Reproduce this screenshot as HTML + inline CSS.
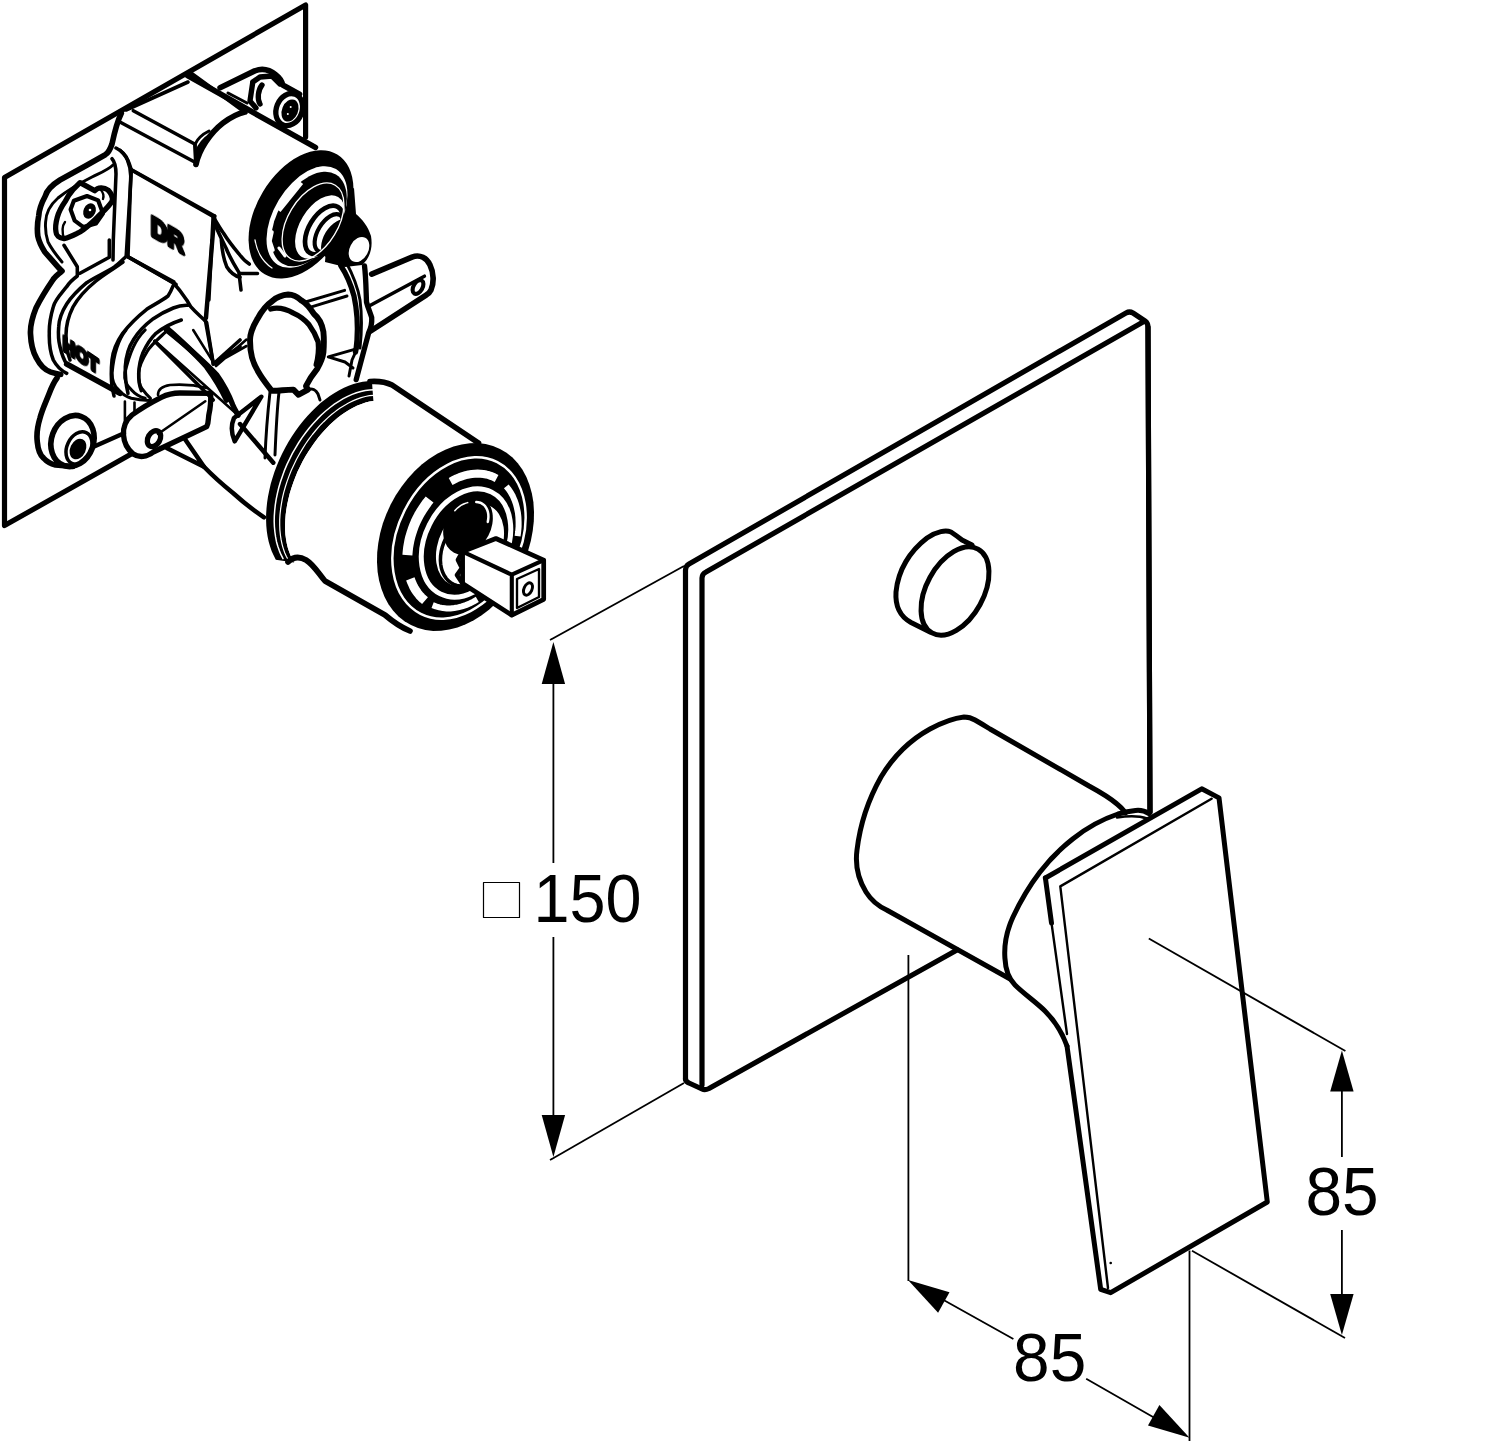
<!DOCTYPE html>
<html><head><meta charset="utf-8">
<style>
*{-webkit-font-smoothing:antialiased;}
html,body{margin:0;padding:0;background:#fff;}
body{width:1500px;height:1451px;overflow:hidden;}
svg{display:block;}
text{font-family:"Liberation Sans",sans-serif;}
</style></head>
<body>
<svg width="1500" height="1451" viewBox="0 0 1500 1451">
<g fill="none" stroke="#000" stroke-linecap="round" stroke-linejoin="round">
<!-- ===== Valve body ===== -->
<g id="valve">
<g stroke-width="5.66">
<!-- back plate -->
<path d="M131.7,453.7 L4.5,525.6 L4.5,177.5 L305.6,5 L305.6,137" stroke-width="5.2"/>
<!-- body left silhouette -->
<path d="M121.3,113.3 C118,120 115,130 112,144 C110,150 108,153 105.3,154.7 L86.7,165.3 L60,180 C52,185 47,190 45.3,196 C41,204 39,210 38.7,216 C37,224 37,229 37.8,236 C39,242 41,246 44.8,252 L59.2,268.4 L62,271 M61,272 C57,275 54,278 52.8,280 C46,290 40,300 36,308 C32,318 30,326 30.5,334 C31,346 33,352 36.4,358 C40,365 45,370 50.3,371.9 C54,373 57,374 60.7,374.5 M57,378 C54,382 52,386 49,394 C45,404 42,410 40,418 C37,428 36.5,436 37.3,442 C38,450 40,455 43.5,458 C47,462 51,464 55.5,465 L72.8,466.5"/>
<!-- lower left lug ring -->
<ellipse cx="72.5" cy="441" rx="21" ry="26" transform="rotate(20 72.5 441)"/>
</g>
<g stroke-width="3.54">
<ellipse cx="79" cy="448" rx="12" ry="17" transform="rotate(25 79 448)"/>
<ellipse cx="78" cy="449" rx="6" ry="9" transform="rotate(25 78 449)" fill="#000"/>
<!-- body top ridge -->
<path d="M121.3,122.7 L196,162.7 M133.3,110.7 L194.7,144 L196,162.7"/>
<path d="M192,73.6 L243.2,111"/>
<path d="M130.7,169.3 L214.7,216"/>
<path d="M116,148 C122,151 126,155 127.5,160 C130,166 131,172 130.7,178 L128,257 L176,284.4"/>
<path d="M112,158.7 C115,162 116,168 116,174 L113.3,240 L113,260"/>
<path d="M214.7,216 L206.4,318"/>
<!-- upper section -->
<g stroke-width="5.66">
<path d="M187.5,75.5 L315.4,147.4"/>
<path d="M220.1,87.7 L254.7,70.9 C262,68 270,70 276,75 C280,78 282,82 282.7,84.9 L299.5,94.2"/>
<path d="M196,164.4 C199,150 210,133 223,123 C231,117 238,113.5 245,112"/>
<path d="M126,110 L188,82" stroke-width="3.6"/>
</g>
<g stroke-width="3.07">
<path d="M195.3,143.8 C198,138 203,134 209,131 M196.5,152 C199,144 205,138 212,133.5"/>
<path d="M195.3,143.8 L195.3,164.4"/>
<path d="M228,93 L247,103"/>
</g>
<!-- lug screw -->
<g stroke-width="5.31">
<path d="M252.8,82 L260,77 L272,76 L280,84 M252.8,82 L250,101 L256,108"/>
<ellipse cx="289.2" cy="109.6" rx="12.8" ry="16.5" transform="rotate(22 289.2 109.6)"/>
<path d="M262,85 C258,90 257,99 260,104"/>
</g>
<ellipse cx="290" cy="110.5" rx="8" ry="11.5" transform="rotate(22 290 110.5)" fill="#000" stroke="none"/>
<circle cx="290.7" cy="107" r="1" fill="#fff" stroke="none"/>
<circle cx="287.8" cy="114" r="1" fill="#fff" stroke="none"/>
<!-- upper cylinder end rings -->
<ellipse cx="301" cy="214.4" rx="44.3" ry="70" transform="rotate(31.2 301 214.4)" fill="#000" stroke="none"/>
<path d="M330,200 L354,188 L356,214 C362,219 368,226 371,236 C373,248 370,258 362,265 L345,267 L325,262 Z" fill="#000" stroke="none"/>
<ellipse cx="307" cy="217" rx="33" ry="56" transform="rotate(31.2 307 217)" fill="#fff" stroke="none"/>
<ellipse cx="309" cy="219" rx="31" ry="52" transform="rotate(31.2 309 219)" fill="#000" stroke="none"/>
<ellipse cx="320" cy="227" rx="20" ry="35" transform="rotate(31.2 320 227)" fill="#fff" stroke="none"/>
<g stroke="#000" fill="none">
<ellipse cx="324" cy="230" rx="15" ry="27" transform="rotate(31.2 324 230)" stroke-width="4.72"/>
<ellipse cx="329" cy="233" rx="11" ry="21" transform="rotate(31.2 329 233)" stroke-width="4.13"/>
</g>
<ellipse cx="336" cy="238.5" rx="12" ry="21" transform="rotate(31.2 336 238.5)" fill="#000" stroke="none"/>
<g stroke="#fff">
<path d="M255,240 C257,252 263,262 272,268" stroke-width="1.3"/>
<path d="M278,210 L300.6,182" stroke-width="6.5" stroke-linecap="butt"/>
<path d="M316,169 C322,167 328,168 333,171" stroke-width="2.5"/>
<path d="M272,232 L270,241 L273,250" stroke-width="3.5"/>
<path d="M279,248 L285,256" stroke-width="3"/>
<ellipse cx="313" cy="222" rx="25" ry="43" transform="rotate(31.2 313 222)" stroke-width="1.3"/>
</g>
<ellipse cx="359" cy="249.5" rx="9.3" ry="13.3" transform="rotate(28 359 249.5)" fill="#fff" stroke="none"/>
<!-- lower-middle bracket -->
<g stroke-width="5.31">
<path d="M161.3,397.3 C150,403 140,409 132,415 C126,420 123,427 123.5,435 C124,443 127,449 133.3,454 C139,458 147,457 153.3,452 L206.7,426.7 C209,422 208,418 209,414 C210,410 211,405 210.7,393.3 L180,393 C172,393 166,395 161.3,397.3 Z"/>
<ellipse cx="154" cy="438.7" rx="6" ry="8.5" transform="rotate(30 154 438.7)"/>
</g>
<g stroke-width="2.60">
<path d="M158,434 L205.3,401.3"/>
<path d="M158,395 C158,389 163,386 170,385 C182,384 195,385 207,388"/>
<path d="M124.9,401.5 L124.9,426 M134.5,402.5 L134.5,413.2"/>
</g>
<g stroke-width="4.48">
<path d="M166.7,448 L204,466.7 L184.7,438.7"/>
<path d="M204,466.7 C212,475 222,484 233,493 C243,502 253,510 264,517.3"/>
<path d="M261.3,396.7 L234,418 C231,425 231,433 234.7,441.3 Z"/>
<path d="M240,424 L273.3,462.7"/>
<path d="M93.6,446.8 L124,433.3"/>
</g>
<g stroke-width="2.95">
<path d="M270,392 C268,410 266,430 265,458 M279,392 C277,410 276,430 275,455"/>
</g>
<!-- flange arcs -->
<g stroke-width="3.07">
<path d="M126,330 C118,340 114,352 112.1,372.7 C112,380 114,386 118.5,389.7 C123,395 127,397 131.3,398.3 C138,400 145,400.5 150.5,400.4"/>
<path d="M145.2,330 C135,340 130,352 124.9,372.7 C124,380 127,386 131.3,389.7 C136,395 140,397 145.2,398.3"/>
<path d="M165.5,332.1 C157,340 150,346 147.3,351.3 C142,360 139,366 138.8,372.7 C138.5,380 139,385 142,388.7 C145,393 148,396 150.5,398.3"/>
</g>
<g stroke-width="2.60">
<path d="M154.8,340.7 L235.9,413.2"/>
<path d="M193.2,330 L214.5,364.1 L246.5,346 M216,366 L246.5,339.6"/>
</g>
<g stroke-width="5.31">
<path d="M166.5,330 C185,345 205,362 216.7,374.8 C224,385 229,395 232.7,404.7 C235,410 237,413 238,415.3"/>

</g>
<!-- body block & housing lines -->
<g stroke-width="3.54">
<path d="M131.4,170 L213.1,216.5 M131.4,170 L126.2,255.8 L173.8,281.7 M213.1,216.5 L208.9,300"/>
<path d="M120,150.3 C125,155 128,160 129.3,163.8 L131.4,170"/>
<path d="M213.1,216.5 C218,225 221,230 223.4,233 C229,242 234,248 238.9,253.8 C242,258 246,262 249.3,264.1"/>
<path d="M214,222 C218,232 222,240 226,248 C230,258 235,266 238.9,272.4 L241,290 M238.9,273.4 L257.5,273.4"/>
<path d="M64,245.3 L77.3,266.7 L77.3,276 C72,280 69,283 66.7,286.7 C60,295 55,300 53.3,306.7 C50,318 49,325 49.3,333.3 C49,345 50,352 53.3,360 C57,367 62,371 66.7,373.3"/>
<path d="M109.3,240 L109.3,257.3 L80,273.3"/>
<path d="M125.3,257.3 C120,262 118,264 114.7,266.7 C105,273 95,277 86.7,282.7 C78,290 72,296 66.7,304 C61,313 59,320 58.7,326.7 C58,335 58.5,341 60,346.7 C62,355 64,360 66.7,364"/>
<path d="M123,262 C112,270 103,275 96,281 C85,290 78,298 73,307 C68,317 66,325 66,335 C66,345 67,352 70,360"/>
<path d="M126.7,256 L173.3,282.7 C180,290 184,296 186.7,300 L190.7,306.7 C197,314 203,318 206.7,322.7 L213.3,364"/>
<path d="M173.3,285.3 C171,291 170,293 168,296 C160,302 153,305 146.7,309.3 C137,317 129,325 122.7,333.3 C116,343 113,350 112,360 C111,370 111,378 112,386.7 L114,396"/>
<path d="M188,305.3 C182,305 178,306 173.3,308 C166,311 160,314 153.3,318.7 C145,325 138,332 133.3,340 C128,348 126,356 125.3,366.7 C125,376 126,385 128,393.3"/>
<path d="M181.3,320 C172,323 164,327 156,333.3 C150,339 146,346 142.7,353.3 C140,360 139,366 138.7,373.3 C138.5,380 139.5,386 141.3,390.7"/>
<path d="M154.7,341.3 L213.3,400"/>
<path d="M212,240 L205.3,320 L213.3,364 L240,346.7 M213.3,364 L240,340"/>
<path d="M221.3,240 C222,252 224,260 226.7,266.7 C230,272 235,276 240,277.3"/>
</g>
<g stroke-width="5.66">
<path d="M66.7,364 L120,393.3"/>
<path d="M166.7,328 C180,340 195,353 206.7,366.7 C215,378 222,390 226.7,400"/>
</g>
<g fill="#000" stroke="#000" stroke-width="4.72" stroke-linejoin="round" font-weight="bold" font-family="Liberation Sans, sans-serif" opacity="0.999">
<text font-size="28" stroke-width="4.48" transform="translate(151,235) skewY(30) scale(0.82,1)">DR</text>
<text font-size="21" stroke-width="4" transform="translate(63,350) skewY(34) scale(0.8,1)">HOT</text>
</g>
<!-- right pin bracket -->
<g stroke-width="5.66">
<path d="M371.7,274.1 L412,257.1 C420,254 427,258 430,265 C434,273 434,283 431,290 C430,292 428,294 426.5,294.8 L370.7,331"/>
</g>
<g stroke-width="3.54">
<path d="M368.6,306.2 L424.4,276.2"/>
<ellipse cx="418" cy="287" rx="4.5" ry="7.5" transform="rotate(30 418 287)" stroke-width="4.13"/>
</g>
<!-- curved pipe -->
<g stroke-width="5.31">
<path d="M340.7,265.5 C347,275 351,285 354,296 C357,310 358,325 357,340 C356.5,346 356,350 355.5,352"/>
<path d="M364.5,265.9 C366,278 366,290 366.5,302 C368,308 370,312 371.7,317.6 C372,322 371,328 368.6,333 L360.3,364.1 L356.2,379.6"/>
</g>
<g stroke-width="2.95">
<path d="M346,262 C353,275 358,288 360,300 C362,315 362,330 360,348"/>
<path d="M328.3,356.9 L357.2,348.6 L352,360 L349,376 M328.3,356.9 L345,362 L353,368"/>
<path d="M344.6,290.3 L305.5,302 M347,296 L310.7,307.2"/>
</g>
<!-- knob -->
<g stroke-width="5.90">
<path d="M288.2,294.5 C282,295 277,297 272.7,300.7 C265,306 261,312 257.2,319.3 C252,328 250,333 250,340 C250,346 250.5,352 252,357.6 C254,365 257,370 260.3,375.1 C264,381 268,386 271.7,390.7 C278,391 286,389.5 293.4,389.6 L298.6,394.8 L307.9,389.6 L306,386 C309,380 313,374 317.2,368.9 C321,362 323,356 323.4,352.4 C324,345 324,338 323.4,331.7 C322,324 319,318 314.1,314.1 C310,308 306,303 301.7,300.7 C297,296.5 293,294.5 288.2,294.5 Z" fill="#fff"/>
</g>
<g stroke-width="5.31">
<path d="M270.7,309 C278,307 286,309 293.4,313.1 C300,316 305,320 308.9,324.5 C313,330 316,336 318.2,342 C319,350 318,358 316.2,364.8"/>
</g>
<g stroke-width="2.95">
<path d="M308,389.6 C312,388 316,390 318,394 L320,400"/>

</g>
<!-- cartridge -->
<path d="M371.9,380.9 L367.4,381.2 L362.8,381.7 L358.2,382.7 L353.5,384.0 L348.7,385.7 L344.0,387.8 L339.2,390.2 L334.5,392.9 L329.8,396.0 L325.1,399.4 L320.5,403.1 L316.0,407.2 L311.7,411.4 L307.4,416.0 L303.3,420.8 L299.3,425.8 L295.5,431.0 L291.8,436.5 L288.4,442.0 L285.2,447.8 L282.1,453.7 L279.4,459.6 L276.8,465.7 L274.5,471.8 L272.5,478.0 L270.7,484.1 L269.3,490.3 L268.0,496.4 L267.1,502.5 L266.5,508.5 L266.1,514.4 L266.1,520.2 L266.3,525.8 L266.8,531.3 L267.6,536.6 L268.7,541.7 L270.1,546.6 L271.7,551.2 L273.7,555.6 L275.8,559.7 L294.3,562.5 L292.3,559.1 L290.6,555.6 L289.1,551.8 L287.8,547.8 L286.8,543.5 L286.0,539.1 L285.4,534.5 L285.1,529.7 L285.1,524.8 L285.3,519.7 L285.7,514.5 L286.4,509.3 L287.3,504.0 L288.5,498.6 L289.8,493.2 L291.5,487.8 L293.3,482.4 L295.4,477.0 L297.6,471.6 L300.1,466.4 L302.7,461.2 L305.6,456.1 L308.6,451.2 L311.8,446.4 L315.1,441.7 L318.5,437.2 L322.1,433.0 L325.8,428.9 L329.6,425.1 L333.4,421.5 L337.4,418.1 L341.3,415.0 L345.4,412.2 L349.4,409.7 L353.5,407.5 L357.5,405.5 L361.6,403.9 L365.6,402.6 L369.5,401.6 L373.4,401.0 Z" fill="#000" stroke="none"/>
<path d="M373.7,389.7 L369.5,390.0 L365.2,390.5 L360.9,391.5 L356.5,392.8 L352.1,394.4 L347.7,396.4 L343.2,398.7 L338.8,401.3 L334.4,404.2 L330.0,407.5 L325.7,411.0 L321.5,414.8 L317.4,418.9 L313.4,423.2 L309.5,427.7 L305.8,432.5 L302.2,437.4 L298.8,442.5 L295.6,447.8 L292.5,453.2 L289.7,458.8 L287.0,464.4 L284.6,470.1 L282.5,475.9 L280.5,481.7 L278.8,487.5 L277.4,493.4 L276.2,499.1 L275.3,504.9 L274.7,510.5 L274.3,516.1 L274.2,521.5 L274.4,526.8 L274.9,532.0 L275.6,536.9 L276.5,541.7 L277.8,546.3 L279.3,550.6 L281.0,554.7 L283.0,558.6" stroke="#fff" stroke-width="1.5"/>
<path d="M373.5,395.3 L369.4,395.7 L365.3,396.5 L361.2,397.6 L357.0,399.1 L352.8,400.9 L348.5,403.0 L344.3,405.4 L340.1,408.1 L335.9,411.1 L331.8,414.3 L327.7,417.9 L323.7,421.7 L319.8,425.7 L316.1,430.0 L312.4,434.5 L308.9,439.2 L305.5,444.0 L302.3,449.1 L299.3,454.2 L296.4,459.5 L293.8,464.9 L291.3,470.3 L289.1,475.9 L287.1,481.4 L285.3,487.0 L283.7,492.6 L282.4,498.2 L281.4,503.8 L280.6,509.2 L280.0,514.6 L279.7,519.9 L279.7,525.1 L279.9,530.1 L280.4,535.0 L281.1,539.7 L282.1,544.3 L283.3,548.6 L284.7,552.7 L286.4,556.5 L288.4,560.1" stroke="#fff" stroke-width="1.2"/>
<path d="M373.4,401.0 L369.5,401.6 L365.6,402.6 L361.6,403.9 L357.5,405.5 L353.5,407.5 L349.4,409.7 L345.4,412.2 L341.3,415.0 L337.4,418.1 L333.4,421.5 L329.6,425.1 L325.8,428.9 L322.1,433.0 L318.5,437.2 L315.1,441.7 L311.8,446.4 L308.6,451.2 L305.6,456.1 L302.7,461.2 L300.1,466.4 L297.6,471.6 L295.4,477.0 L293.3,482.4 L291.5,487.8 L289.8,493.2 L288.5,498.6 L287.3,504.0 L286.4,509.3 L285.7,514.5 L285.3,519.7 L285.1,524.8 L285.1,529.7 L285.4,534.5 L286.0,539.1 L286.8,543.5 L287.8,547.8 L289.1,551.8 L290.6,555.6 L292.3,559.1 L294.3,562.5 L410,631 L478.5,443 Z" fill="#fff" stroke="none"/>
<g stroke-width="5.66">
<path d="M370,381.5 C378,381 386,382 392,385 L478.5,443"/>
<path d="M288,562 C293,557 299,556 306,560 C314,565 318,573 325,581 L385,615 C392,621 398,626 410,631"/>
</g>
<path d="M520.2,569.7 L515.2,578.7 L509.5,587.3 L503.3,595.3 L496.5,602.7 L489.3,609.4 L481.7,615.2 L473.8,620.2 L465.7,624.3 L457.5,627.5 L449.3,629.6 L441.2,630.8 L433.2,630.9 L425.4,630.0 L418.0,628.0 L411.0,625.1 L404.5,621.2 L398.5,616.4 L393.2,610.7 L388.5,604.2 L384.6,597.0 L381.5,589.1 L379.1,580.6 L377.6,571.7 L377.0,562.3 L377.2,552.7 L378.3,543.0 L380.2,533.1 L382.9,523.3 L386.5,513.7 L390.8,504.3 L395.8,495.3 L401.5,486.7 L407.7,478.7 L414.5,471.3 L421.7,464.6 L429.3,458.8 L437.2,453.8 L445.3,449.7 L453.5,446.5 L461.7,444.4 L469.8,443.2 L477.8,443.1 L485.6,444.0 L493.0,446.0 L500.0,448.9 L506.5,452.8 L512.5,457.6 L517.8,463.3 L522.5,469.8 L526.4,477.0 L529.5,484.9 L531.9,493.4 L533.4,502.3 L534.0,511.7 L533.8,521.3 L532.7,531.0 L530.8,540.9 L528.1,550.7 L524.5,560.3 L520.2,569.7 Z" fill="#000" stroke="none"/>
<g stroke="#fff" fill="none">
<ellipse cx="459" cy="538" rx="61" ry="85" transform="rotate(26.8 459 538)" stroke-width="2.5"/>
<path d="M407.4,555.1 L407.7,551.5 L408.1,547.8 L408.7,544.2 L409.4,540.5 L410.3,536.8 L411.4,533.1 L412.6,529.5 L413.9,525.9 L415.4,522.3 L417.1,518.8 L418.8,515.4 L420.8,512.0 L422.8,508.8 L425.0,505.6 L427.2,502.5 L429.6,499.5" stroke-width="10" stroke-linecap="butt"/>
<path d="M450.6,481.5 L453.6,479.9 L456.6,478.4 L459.6,477.1 L462.6,476.1 L465.7,475.2 L468.7,474.5 L471.7,474.0 L474.7,473.7 L477.6,473.6 L480.5,473.7 L483.4,474.0 L486.2,474.5 L488.9,475.2 L491.6,476.1 L494.1,477.2 L496.6,478.5" stroke-width="8" stroke-linecap="butt"/>
<path d="M425.0,600.6 L423.0,598.9 L421.2,597.2 L419.4,595.3 L417.8,593.3 L416.3,591.1 L414.8,588.9 L413.5,586.5 L412.4,584.0 L411.3,581.4 L410.3,578.8" stroke-width="9" stroke-linecap="butt"/>
<path d="M477.3,599.4 L473.5,601.6 L469.7,603.5 L465.8,605.1 L461.9,606.4 L458.0,607.4 L454.2,608.0 L450.4,608.4 L446.6,608.4 L443.0,608.1 L439.4,607.4 L435.9,606.4 L432.6,605.1" stroke-width="6" stroke-linecap="butt"/>
<path d="M506.3,486.4 L508.7,489.4 L510.9,492.7 L512.9,496.3 L514.5,500.1 L515.9,504.1 L517.0,508.3 L517.9,512.6 L518.4,517.1 L518.6,521.8 L518.6,526.5 L518.2,531.4 L517.6,536.2" stroke-width="6" stroke-linecap="butt"/>
<ellipse cx="466" cy="543" rx="41" ry="57" transform="rotate(26.8 466 543)" stroke-width="5"/>
</g>
<ellipse cx="470" cy="545" rx="31" ry="44" transform="rotate(26.8 470 545)" fill="#fff" stroke="none"/>
<ellipse cx="468" cy="525" rx="23" ry="31" transform="rotate(26.8 468 525)" fill="#000" stroke="none"/>
<g stroke="#fff" fill="none">
<path d="M476.3,502.1 L478.3,502.2 L480.3,502.7 L482.0,503.6 L483.6,504.7 L485.1,506.2 L486.2,507.9 L487.2,509.8 L487.9,512.0 L488.3,514.3 L488.4,516.8 L488.2,519.3 L487.8,521.9" stroke-width="2.5"/>
<path d="M454.8,510.7 L456.2,509.2 L457.7,507.8 L459.3,506.6 L460.9,505.4 L462.6,504.5 L464.3,503.7 L466.0,503.1 L467.7,502.6" stroke-width="1.5"/>
</g>
<path d="M467.2,585.5 L463.6,586.0 L460.2,586.0 L456.8,585.4 L453.7,584.3 L450.8,582.7 L448.2,580.6 L446.0,578.1 L444.0,575.1 L442.5,571.8 L441.4,568.2 L440.7,564.2 L440.4,560.1 L440.6,555.8 L441.2,551.4 L442.3,547.0 L443.8,542.7 L445.6,538.4 L447.8,534.3 L450.4,530.5 L453.2,527.0" stroke-width="3.54"/>
<!-- stem -->
<path d="M462.6,551.6 L495.9,538.5 L543.7,560.2 L543.7,599.3 L511.8,615.2 L462.6,583.4 Z" fill="#fff" stroke-width="4.72"/>
<path d="M462.6,551.6 L511.8,574.7 L543.7,560.2 M511.8,574.7 L511.8,615.2" stroke-width="4.13"/>
<path d="M517,579 L539,569 L539,597 L517,608 Z" stroke-width="2.36"/>
<ellipse cx="528" cy="589" rx="4" ry="6.5" transform="rotate(25 528 589)" stroke-width="2.95"/>
<path d="M462.6,551.6 L458,560 L462,568 L457,575 L462.6,583.4" stroke-width="4.72"/>
<!-- upper-left lug -->
<path d="M80,182.7 L94.7,190.7 C98,187 104,187 108,190 C112,194 113,198 112,201.3 C108,208 100,214 94.7,220 C88,226 83,231 77.3,233.3 C72,236 67,238 64,238.7 C59,238 56,235 56,232 C55,227 56,222 57.3,217.3 C59,211 62,206 65.3,201.3 C68,196 71,192 73.3,189.3 Z" stroke-width="5.31"/>
<path d="M64,238.7 C62,232 62,226 65,222 M100,189 C103,192 104,196 103,199" stroke-width="2.36"/>
<path d="M78,197 L92,197 L101,205 L101,219 L91,226 L78,225 L72,216 L72,204 Z" stroke-width="4.13" transform="rotate(-20 86.7 210.7)"/>
<ellipse cx="89.5" cy="211" rx="6" ry="8" transform="rotate(25 89.5 211)" fill="#000" stroke="none"/>
<circle cx="90" cy="210" r="1.3" fill="#fff" stroke="none"/>
<path d="M113,165 C108,170 100,173 92,177 C80,183 68,190 58,198 C50,205 46,212 45.6,222 C45,230 46,236 48,242 C52,250 57,256 62,262" stroke-width="2.95"/>
</g>
</g>
<!-- ===== Cover plate ===== -->
<g stroke-width="5.2">
<path d="M685.5,1079 L685.5,570 Q685.5,566 689,564 L1126,313 Q1129.5,311 1133,313 L1145,321 Q1148,323 1148,327 L1150,812"/>
<path d="M702,1085 L702,578 Q702,574 706,572 L1143,322"/>
<path d="M685.5,1079 Q686,1082 689,1083 L702,1089 Q705,1090.5 709,1088.5 L957,950"/>
</g>
<!-- Button -->
<g stroke-width="5">
<path d="M930,632 L911,622.5 C901,617 895,607 896,592 C898,570 910,551 927,538 C937,531 946,530 951,532 Q957,536 962,540 L972,545"/>
<ellipse cx="955" cy="591" rx="28.5" ry="47.8" transform="rotate(28.8 955 591)"/>
</g>
<!-- ===== Handle ===== -->
<g stroke-width="5">
<path d="M1009.7,978.7 L886.7,910 C878,906 871,900 866,892 C858,879 855,865 857,850 C860,825 868,800 881,777 C893,757 910,740 930,729 C943,722 955,718 964,717 Q970,717 975,720 Q982,724 990,729 L1089,786 C1100,792 1110,798 1117,804 Q1122,808 1125.6,812.8"/>
<path d="M1149,813.6 C1145,811 1140,810 1135.5,810.5 C1130,811 1125,812 1118,814 C1100,820 1085,829 1072.7,839 C1060,849 1050,859 1040,872 C1030,885 1020,902 1013,917 C1007,930 1004,945 1004.9,958 C1005.5,970 1009,979 1015,985 C1024,994 1036,1002 1045,1011 C1055,1021 1062,1032 1067,1046"/>
<path d="M1045.4,878 L1201.7,788.8 L1219,797.9 L1267.3,1202 L1110.7,1292.7 L1100.7,1289.3 L1067,1046"/>
<path d="M1045.4,878 L1051.5,923"/>
</g>
<circle cx="1110.7" cy="1263" r="1.3" fill="#000" stroke="none"/>
<g stroke-width="2.4">
<path d="M1051.5,923 L1067,1034"/>
<path d="M1108,1288 L1060.3,886.4 L1211.6,798.7"/>
<path d="M1147,818.5 C1140,816 1130,815.5 1117,817.5"/>
</g>
<g stroke-width="5.2">
<path d="M1148,327 L1150,812"/>
</g>
<!-- ===== Dimensions ===== -->
<g stroke-width="1.8" stroke-linecap="butt">
<path d="M550,640 L684,566"/>
<path d="M550,1160 L684,1083"/>
<path d="M553.4,683 L553.4,863 M553.4,937 L553.4,1116"/>
<path d="M1148.8,938.5 L1345.4,1051"/>
<path d="M1192,1250.7 L1345,1338"/>
<path d="M1341.9,1091 L1341.9,1157 M1341.9,1230 L1341.9,1295"/>
<path d="M908.4,955 L908.4,1281"/>
<path d="M1189.5,1250.5 L1189.5,1441"/>
<path d="M940,1298 L1013.4,1339 M1086.2,1378.8 L1160,1421"/>
</g>
<g fill="#000" stroke="none">
<path d="M553.4,642 L565.1,684 L541.7,684 Z"/>
<path d="M553.4,1157 L565.1,1115 L541.7,1115 Z"/>
<path d="M1341.9,1050.4 L1353.6,1091.4 L1330.2,1091.4 Z"/>
<path d="M1341.9,1335 L1353.6,1294 L1330.2,1294 Z"/>
<path d="M908,1280 L949.5,1292.3 L938.1,1312.7 Z"/>
<path d="M1189.5,1437.7 L1148,1425.4 L1159.4,1405 Z"/>
</g>
<g fill="#000" stroke="none" font-size="68.5">
<text transform="translate(533.4,922) scale(0.945,1)">150</text>
<text transform="translate(1013.1,1381) scale(0.96,1)">85</text>
<text transform="translate(1305.4,1215.3) scale(0.96,1)">85</text>
</g>
<rect x="483.5" y="882.5" width="36" height="35" stroke-width="1.2"/>
</g>
</svg>
</body></html>
